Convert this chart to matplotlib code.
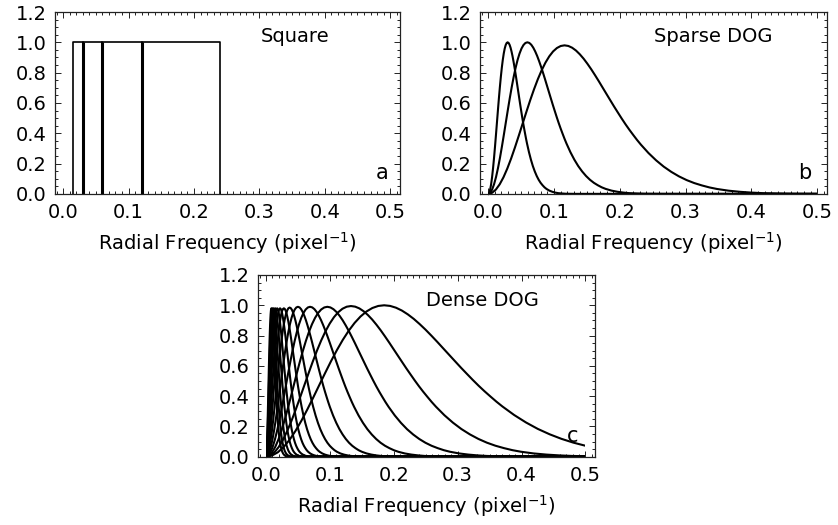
import matplotlib
matplotlib.use("Agg")
import matplotlib.pyplot as plt
from matplotlib.ticker import MultipleLocator
from matplotlib.patches import Rectangle

plt.rcParams['font.family'] = ['DejaVu Sans']

# ---- data ----
# Panel a: square pass-bands (edges in pixel^-1), height 1.0
square_edges = [0.015, 0.03, 0.06, 0.12, 0.24]
square_height = 1.0

# Normalised DOG profile (u = f / f_peak, y = response / peak)
profile_u = [0.0, 0.05, 0.1, 0.15, 0.2, 0.25, 0.3, 0.35, 0.4, 0.45, 0.5, 0.55,
             0.6, 0.65, 0.7, 0.75, 0.8, 0.85, 0.9, 0.95, 1.0, 1.05, 1.1, 1.15,
             1.2, 1.25, 1.3, 1.35, 1.4, 1.45, 1.5, 1.55, 1.6, 1.65, 1.7, 1.75,
             1.8, 1.85, 1.9, 1.95, 2.0, 2.1, 2.2, 2.3, 2.4, 2.5, 2.6, 2.7, 2.8,
             2.9, 3.0, 3.15, 3.3, 3.45, 3.6, 3.8, 4.0, 4.5, 60.0]
profile_y = [0.0, 0.0073, 0.029, 0.0643, 0.112, 0.1707, 0.238, 0.3124, 0.391,
             0.4718, 0.552, 0.6304, 0.704, 0.7718, 0.832, 0.8837, 0.926, 0.959,
             0.982, 0.9956, 1.0, 0.9959, 0.984, 0.9651, 0.940, 0.9103, 0.876,
             0.8389, 0.799, 0.7577, 0.715, 0.6725, 0.630, 0.5877, 0.547, 0.5067,
             0.468, 0.4315, 0.397, 0.3633, 0.332, 0.2752, 0.226, 0.1835, 0.148,
             0.1179, 0.093, 0.0729, 0.057, 0.0434, 0.033, 0.0216, 0.014, 0.0087,
             0.005, 0.0027, 0.001, 0.0002, 0.0]

# Panel b: sparse DOG peak frequencies and peak heights
sparse_peaks = [0.0295, 0.0595, 0.116]
sparse_amps = [1.0, 1.0, 0.98]

# Panel c: dense DOG peak frequencies and peak heights
dense_peaks = [0.185, 0.133, 0.096, 0.069, 0.050, 0.037, 0.028, 0.022,
               0.0175, 0.0145, 0.012, 0.010, 0.0085]
dense_amps = [1.0, 0.995, 0.99, 0.99, 0.99, 0.985, 0.98, 0.98,
              0.98, 0.98, 0.98, 0.98, 0.98]

freq_max = 0.5
xticks = [0.0, 0.1, 0.2, 0.3, 0.4, 0.5]
yticks = [0.0, 0.2, 0.4, 0.6, 0.8, 1.0, 1.2]
xlabel = r'Radial Frequency (pixel$^{-1}$)'

FS = 14
W, H = 838, 525
fig = plt.figure(figsize=(W / 100, H / 100), dpi=100)


def make_ax(l, t, r, b):
    ax = fig.add_axes([l / W, 1 - b / H, (r - l) / W, (b - t) / H])
    ax.set_xlim(-0.0125, 0.515)
    ax.set_ylim(-0.004, 1.2)
    ax.set_xticks(xticks)
    ax.set_yticks(yticks)
    ax.set_xticklabels(['%.1f' % v for v in xticks])
    ax.set_yticklabels(['%.1f' % v for v in yticks])
    ax.xaxis.set_minor_locator(MultipleLocator(0.01))
    ax.yaxis.set_minor_locator(MultipleLocator(0.05))
    ax.tick_params(which='both', direction='in', top=True, right=True,
                   width=0.7, colors='#222222', labelcolor='black')
    ax.tick_params(which='major', length=4.0, labelsize=FS, pad=6)
    ax.tick_params(which='minor', length=2.0)
    for s in ax.spines.values():
        s.set_linewidth(0.9)
        s.set_color('#222222')
    ax.set_xlabel(xlabel, fontsize=FS, labelpad=6)
    return ax


def dog_lines(ax, peaks, amps):
    for p, a in zip(peaks, amps):
        ln, = ax.plot([u * p for u in profile_u], [v * a for v in profile_y],
                      color='black', lw=1.5)
        ln.set_clip_path(Rectangle((0, -1), freq_max, 3, transform=ax.transData))


# Panel a
axa = make_ax(55, 12, 400, 194.5)
for lo, hi in zip(square_edges[:-1], square_edges[1:]):
    axa.plot([lo, lo, hi, hi], [-0.05, square_height, square_height, -0.05],
             color='black', lw=1.2)
# shared band edges are drawn twice in the original and look heavier
axa.vlines(square_edges[1:-1], -0.05, square_height, color='black', lw=2.2)
axa.text(0.696, 0.868, 'Square', transform=axa.transAxes, ha='center',
         va='center', fontsize=FS)
axa.text(0.948, 0.118, 'a', transform=axa.transAxes, ha='center',
         va='center', fontsize=FS + 1)

# Panel b
axb = make_ax(480, 12, 827, 194.5)
dog_lines(axb, sparse_peaks, sparse_amps)
axb.text(0.671, 0.868, 'Sparse DOG', transform=axb.transAxes, ha='center',
         va='center', fontsize=FS)
axb.text(0.937, 0.118, 'b', transform=axb.transAxes, ha='center',
         va='center', fontsize=FS + 1)

# Panel c
axc = make_ax(258, 275, 595, 457.3)
dog_lines(axc, dense_peaks, dense_amps)
axc.text(0.665, 0.859, 'Dense DOG', transform=axc.transAxes, ha='center',
         va='center', fontsize=FS)
axc.text(0.935, 0.117, 'c', transform=axc.transAxes, ha='center',
         va='center', fontsize=FS + 1)

fig.savefig('out.png', dpi=100, facecolor='white')
